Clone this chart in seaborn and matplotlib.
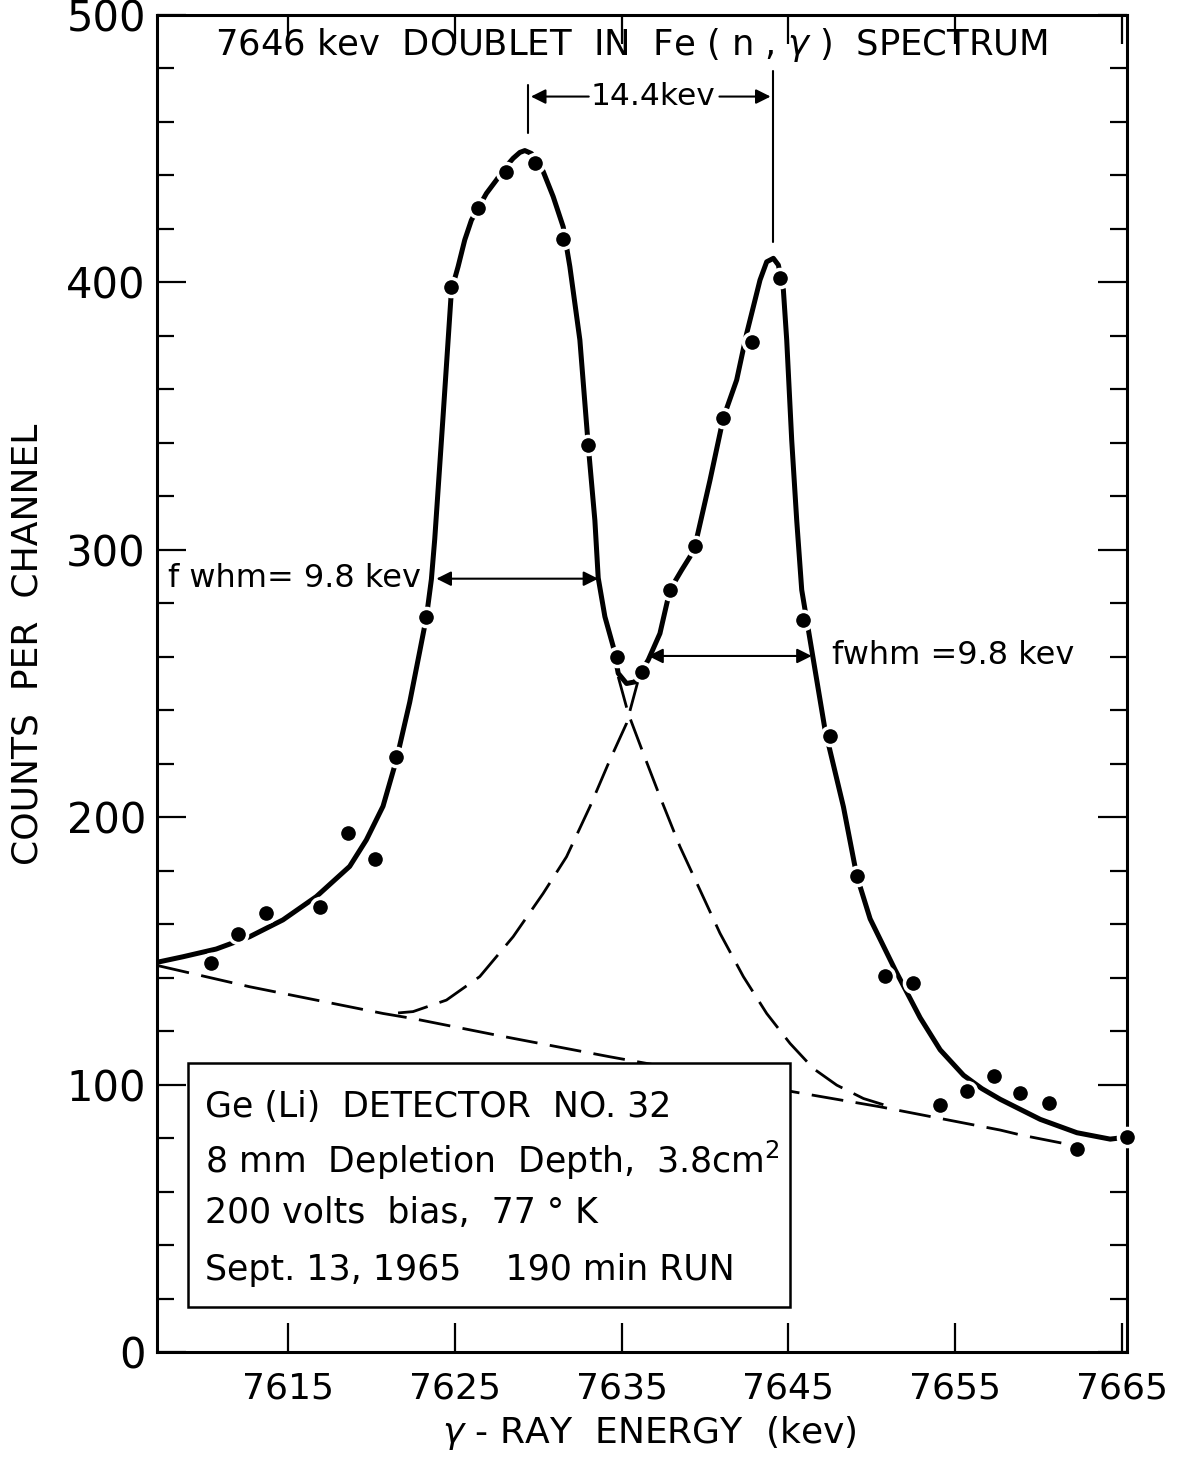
import matplotlib
matplotlib.use("Agg")
import matplotlib.pyplot as plt
from matplotlib.patches import Rectangle
import seaborn as sns
import numpy as np

# ---- measured data points (keV, counts) ----
energy = [7610.4, 7612.0, 7613.7, 7616.9, 7618.6, 7620.2, 7621.5, 7623.3, 7624.8,
          7626.4, 7628.1, 7629.8, 7631.5, 7633.0, 7634.7, 7636.2, 7637.9, 7639.4,
          7641.1, 7642.8, 7644.5, 7645.9, 7647.5, 7649.1, 7650.8, 7652.5, 7654.1,
          7655.7, 7657.3, 7658.9, 7660.6, 7662.3, 7665.3]
counts = [145.6, 156.5, 164.3, 166.5, 194.0, 184.5, 222.6, 274.8, 398.4,
          427.7, 441.2, 444.5, 416.1, 339.2, 260.0, 254.4, 285.0, 301.4,
          349.3, 377.7, 401.5, 273.7, 230.4, 178.1, 140.6, 138.0, 92.4,
          97.6, 103.2, 96.7, 93.0, 75.9, 80.4]

# ---- fitted total curve (solid) ----
fit_x = [7607.2, 7608.7, 7610.7, 7612.7, 7614.7, 7616.7, 7618.7, 7619.7, 7620.7,
         7621.5, 7622.3, 7622.9, 7623.3, 7623.6, 7623.8, 7624.3, 7624.8, 7625.2,
         7625.6, 7626.0, 7626.9, 7627.5, 7628.0, 7628.5, 7628.9, 7629.2, 7629.6,
         7630.3, 7630.9, 7631.5, 7631.9, 7632.5, 7633.0, 7633.4, 7633.6, 7634.0,
         7634.5, 7634.8, 7635.3, 7635.8, 7636.6, 7637.3, 7637.9, 7638.6, 7639.1,
         7639.4, 7640.3, 7641.1, 7641.9, 7642.5, 7642.9, 7643.3, 7643.7, 7644.1,
         7644.4, 7644.7, 7644.9, 7645.2, 7645.5, 7645.8, 7646.5, 7647.2, 7648.3,
         7649.1, 7649.9, 7651.4, 7652.9, 7654.1, 7655.5, 7656.6, 7657.7, 7660.1,
         7662.3, 7664.3, 7665.3]
fit_y = [145.8, 147.8, 150.7, 155.3, 161.6, 170.3, 181.6, 191.5, 204.1,
         221.4, 243.0, 262.0, 274.8, 289.0, 304.0, 350.0, 397.0, 405.9,
         415.9, 423.3, 433.3, 438.3, 442.8, 446.4, 448.6, 449.3, 448.2,
         441.5, 432.1, 420.8, 405.9, 378.5, 339.2, 311.0, 289.5, 275.0,
         263.8, 253.8, 250.0, 250.6, 258.8, 268.7, 285.0, 292.4, 297.4,
         301.4, 326.0, 349.3, 363.5, 380.9, 390.9, 400.9, 407.7, 409.0,
         406.5, 397.2, 378.5, 341.0, 311.0, 285.0, 258.8, 232.6, 203.9,
         178.1, 162.0, 142.9, 125.0, 113.0, 103.5, 98.5, 94.5, 87.0,
         82.0, 79.6, 80.4]

# ---- left peak component tail (dashed) ----
comp1_x = [7634.8, 7635.4, 7636.3, 7637.3, 7638.5, 7639.7, 7640.9, 7642.3,
           7643.7, 7645.1, 7646.5, 7647.9, 7649.5, 7651.1]
comp1_y = [252.5, 238.8, 223.9, 207.7, 189.0, 172.8, 156.6, 140.4,
           126.6, 115.4, 106.0, 99.8, 94.8, 91.7]

# ---- right peak component tail (dashed) ----
comp2_x = [7636.0, 7635.3, 7634.3, 7633.1, 7631.7, 7630.3, 7628.5, 7626.5,
           7624.5, 7622.5, 7621.6]
comp2_y = [251.3, 235.1, 221.4, 203.9, 185.2, 171.5, 155.3, 140.4,
           131.6, 127.3, 126.8]

# ---- background (dashed) ----
base_x = [7607.2, 7612.7, 7616.7, 7620.7, 7622.5, 7627.5, 7628.5, 7634.3,
          7640.0, 7645.3, 7650.5, 7657.7, 7658.9, 7661.5]
base_y = [144.5, 136.6, 131.6, 126.6, 124.7, 118.5, 117.3, 110.4,
          104.0, 97.3, 91.7, 83.0, 81.2, 78.0]

x_ticks = [7615, 7625, 7635, 7645, 7655, 7665]
y_ticks = [0, 100, 200, 300, 400, 500]

box_lines = ["Ge (Li)  DETECTOR  NO. 32",
             "8 mm  Depletion  Depth,  3.8cm$^{2}$",
             "200 volts  bias,  77 ° K",
             "Sept. 13, 1965    190 min RUN"]

sns.set_theme(style="ticks")
plt.rcParams['font.family'] = ['DejaVu Sans']
plt.rcParams['lines.scale_dashes'] = False
for k in ['text.color', 'axes.labelcolor', 'xtick.color', 'ytick.color', 'axes.edgecolor']:
    plt.rcParams[k] = 'black'

fig = plt.figure(figsize=(11.83, 14.60), dpi=100)
ax = fig.add_axes([157/1183, 108/1460, 970/1183, 1337/1460])

dash = (0, (23, 9))
for xs, ys in [(base_x, base_y), (comp1_x, comp1_y), (comp2_x, comp2_y)]:
    sns.lineplot(x=xs, y=ys, ax=ax, color='black', lw=2.0, sort=False,
                 estimator=None, linestyle=dash)

sns.lineplot(x=fit_x, y=fit_y, ax=ax, color='black', lw=3.6, sort=False,
             estimator=None, zorder=3)

sns.scatterplot(x=energy, y=counts, ax=ax, color='black', s=170,
                edgecolor='white', linewidth=2.5, zorder=5, clip_on=False)

ax.set_xlim(7607.15, 7665.3)
ax.set_ylim(0, 500)
ax.set_xticks(x_ticks)
ax.set_yticks(y_ticks)
ax.set_yticks(np.arange(0, 501, 20), minor=True)
for s in ax.spines.values():
    s.set_linewidth(2.2)
    s.set_color('black')
ax.tick_params(axis='both', which='major', direction='in', length=21, width=1.6,
               top=True, right=True, color='black')
ax.tick_params(axis='y', which='major', labelsize=30, pad=8)
ax.tick_params(axis='x', which='major', labelsize=26, pad=14)
ax.tick_params(axis='y', which='minor', direction='in', length=12, width=1.6,
               right=True, left=True, color='black')

ax.set_xlabel(r"$\gamma$ - RAY  ENERGY  (kev)", fontsize=26)
ax.set_ylabel("COUNTS  PER  CHANNEL", fontsize=26)
ax.xaxis.set_label_coords(0.507, -0.046)
ax.yaxis.set_label_coords(-0.116, 0.529)

# title inside
ax.text(0.489, 488.8, r"7646 kev  DOUBLET  IN  Fe ( n , $\gamma$ )  SPECTRUM",
        transform=ax.get_yaxis_transform(), ha='center', va='center', fontsize=25.5)

# peak markers and separation
ax.plot([7629.4, 7629.4], [456, 474], color='black', lw=1.5)
ax.plot([7644.1, 7644.1], [415, 479], color='black', lw=1.5)
ax.text(7636.9, 469.5, "14.4kev", ha='center', va='center', fontsize=22.5)
ap = dict(arrowstyle='-|>', color='black', lw=1.5, mutation_scale=22)
ax.annotate("", xy=(7629.4, 469.5), xytext=(7633.2, 469.5), arrowprops=ap)
ax.annotate("", xy=(7644.1, 469.5), xytext=(7640.7, 469.5), arrowprops=ap)

# fwhm arrows
ap2 = dict(arrowstyle='<|-|>', color='black', lw=1.5, mutation_scale=22,
           shrinkA=0, shrinkB=0)
ax.annotate("", xy=(7623.9, 289.2), xytext=(7633.6, 289.2), arrowprops=ap2)
ax.annotate("", xy=(7636.6, 260.3), xytext=(7646.4, 260.3), arrowprops=ap2)
ax.text(7607.8, 289.2, "f whm= 9.8 kev", ha='left', va='center', fontsize=23)
ax.text(7647.6, 260.3, "fwhm =9.8 kev", ha='left', va='center', fontsize=23)

# info box
ax.add_patch(Rectangle((7609.0, 16.8), 7645.1 - 7609.0, 108.1 - 16.8,
                       facecolor='white', edgecolor='black', lw=1.8, zorder=6))
for yv, line in zip([91.6, 71.8, 52.0, 30.7], box_lines):
    ax.text(7610.0, yv, line, ha='left', va='center', fontsize=25, zorder=7)

fig.savefig("out.png", dpi=100)
